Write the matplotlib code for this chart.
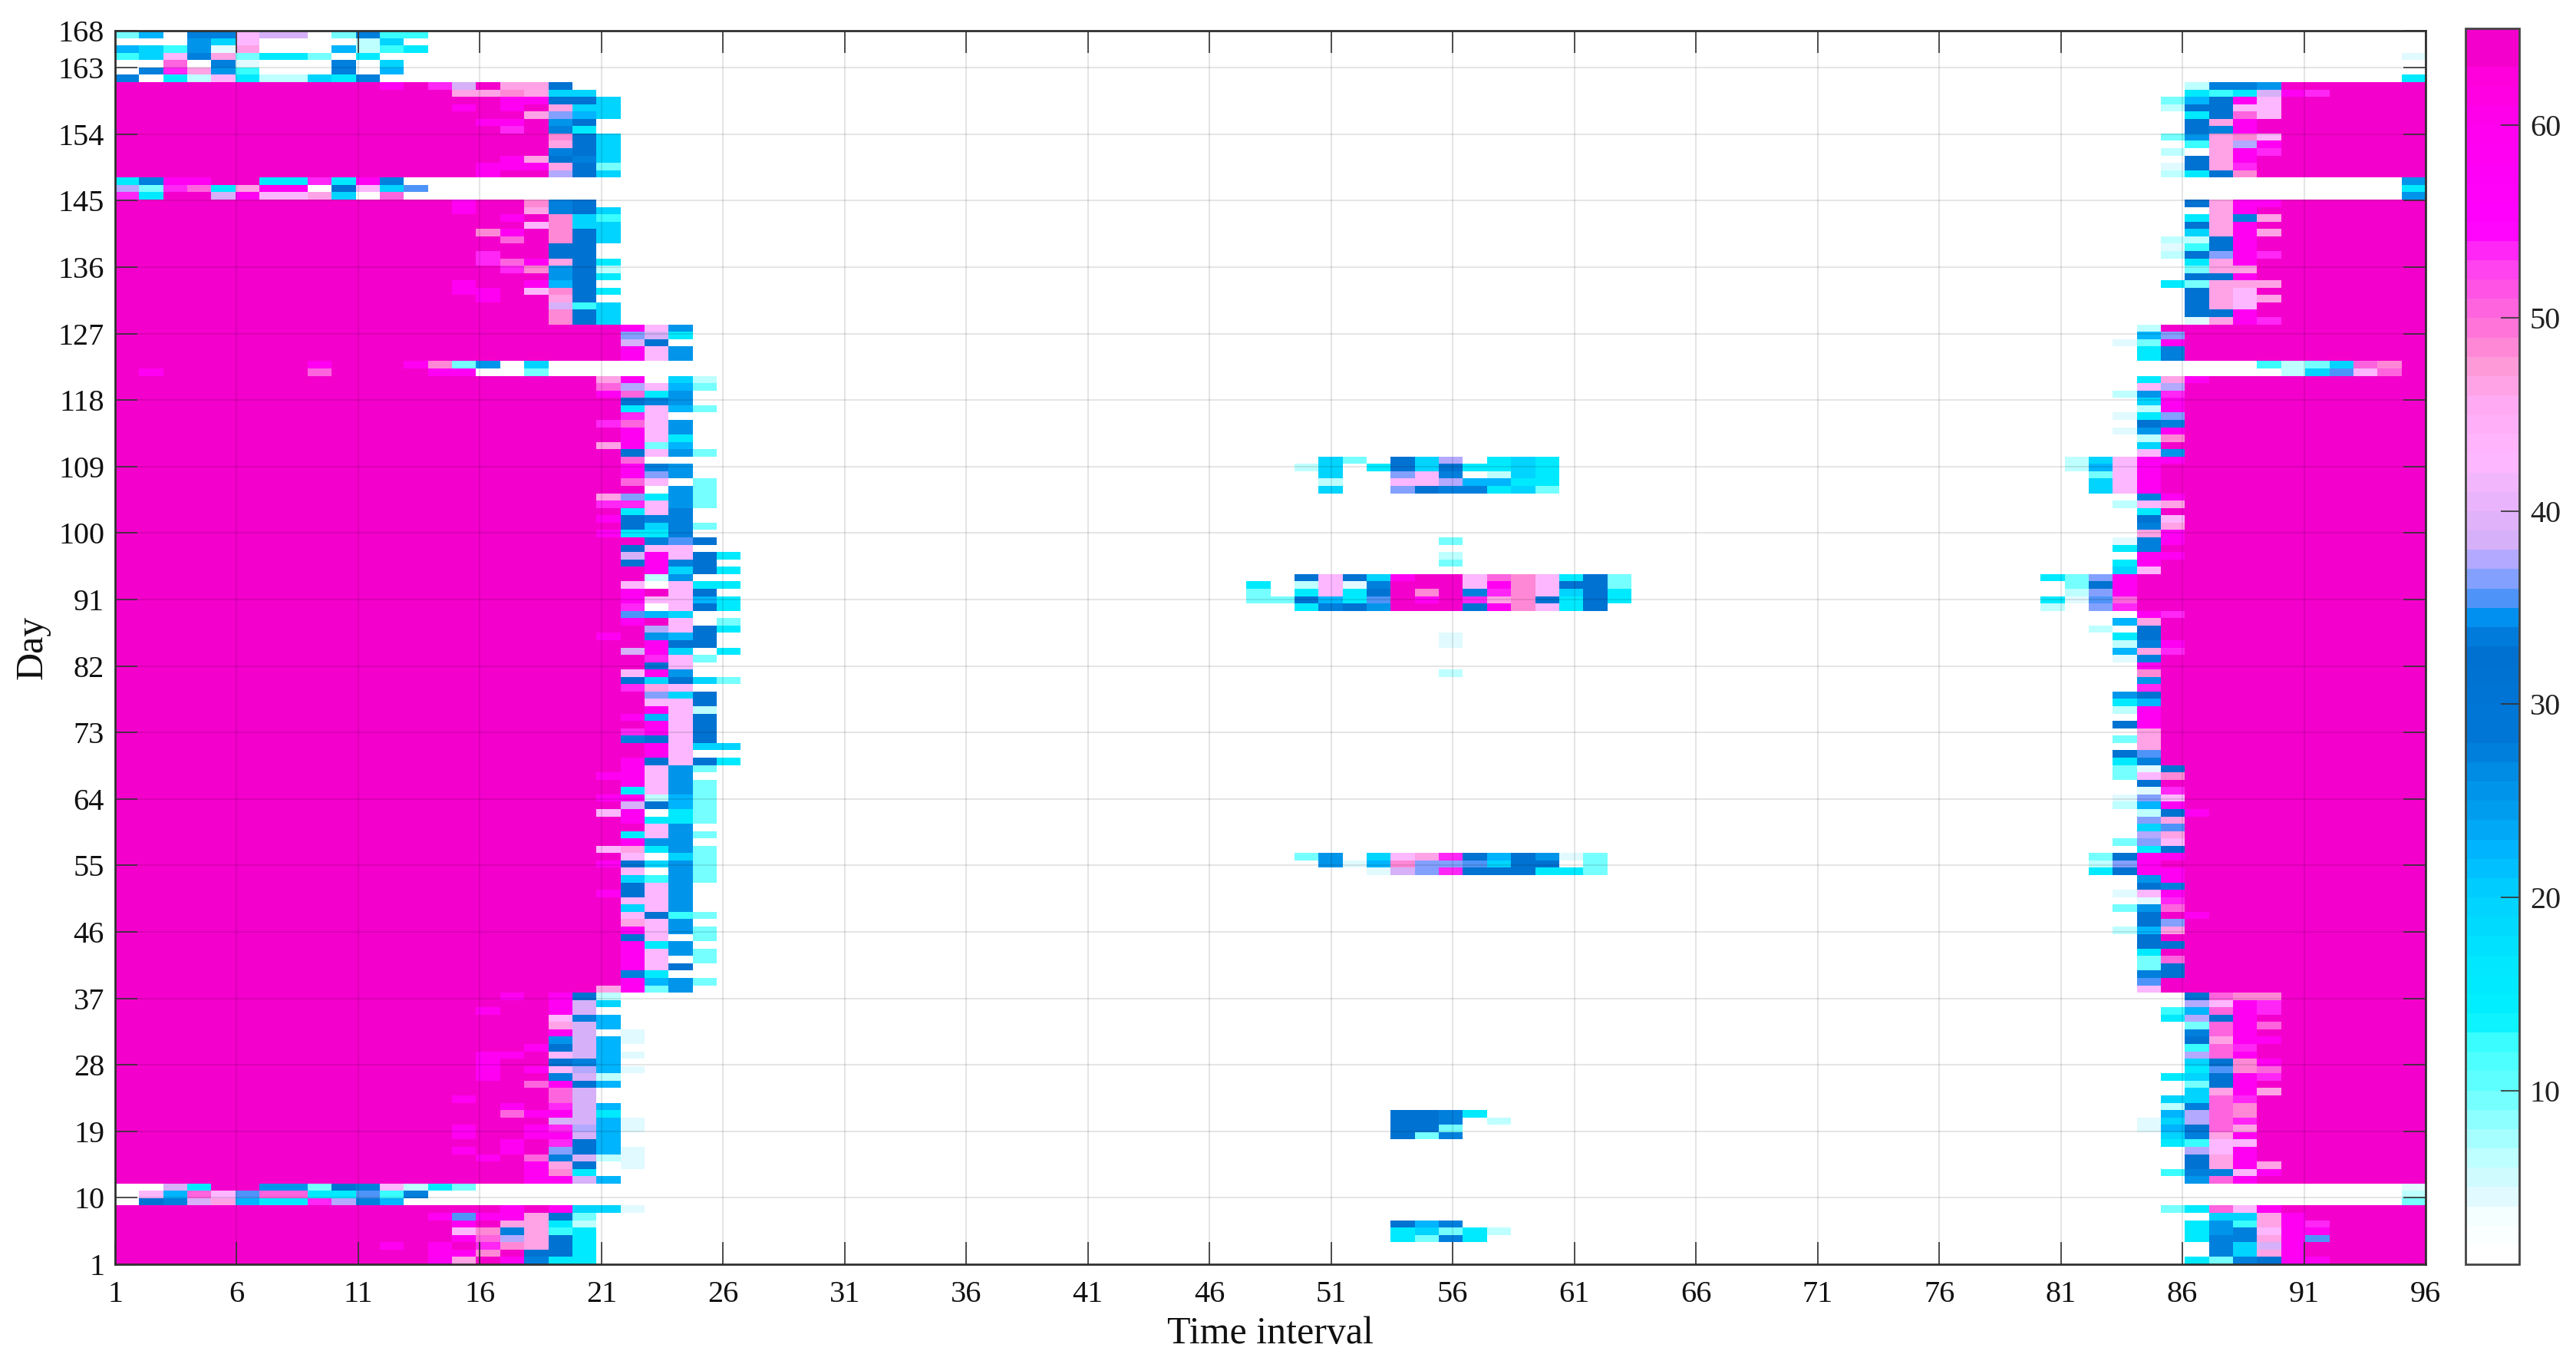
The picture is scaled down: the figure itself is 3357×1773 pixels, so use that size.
import numpy as np
import matplotlib
matplotlib.use('Agg')
import matplotlib.pyplot as plt
from matplotlib.colors import LinearSegmentedColormap

# level of each letter used in the row strings below
levels = {'.': 1, 'w': 4, 'x': 6, 't': 9, 'y': 12, 'a': 15, 's': 19, 'r': 22, 'c': 25,
          'e': 27, 'd': 31, 'f': 35, 'b': 36, 'g': 37, 'v': 38, 'l': 42, 'k': 46,
          'p': 48, 'o': 50, 'h': 53, 'm': 58, 'M': 64}

# colorbar stops
cbar_values = [1, 3, 4.5, 6, 8, 10, 12, 13.5, 16, 20, 22, 24, 26, 28, 33, 34.5, 35.5,
               36.5, 37.5, 38.5, 43, 46, 48, 49.5, 51, 53, 55, 60, 63, 64, 65]
cbar_colors = ['#FFFFFF', '#F5FFFF', '#D8F8FF', '#C0FFFF', '#90FFFF', '#60FFFF', '#40FFFF',
               '#00F0FF', '#00E8FF', '#00D0FF', '#00B8FF', '#00A0F0', '#0090E8', '#0078D8',
               '#0070D0', '#0090F0', '#4C94F8', '#80A0FF', '#B0A8FF', '#D5B0F8', '#FFB8FF',
               '#FFA8F0', '#FF98D5', '#FF78D8', '#FF60E0', '#FF40F0', '#FF00FF', '#FF00F0',
               '#FF00DC', '#F400CC', '#F400CC']

# left edge, interval index 13 onward, days 1-38
left_low = ['mkMmeaa', 'mmpMdda', 'mMhpkda', 'Mmogkda', 'Mlpekya', 'MmMkkax', 'mfmmkdt',
            'MMMmMmssw', '', '', 'at', 'MMMMmmvr', 'MMMMmpa', 'MMMMmkd.w', 'MMmMoevxw',
            'MmMmMbdrw', 'MMMmMhdr', 'MmMMmmvr', 'MmMMmhgrw', 'MMMMMvvrw', 'MMMommva',
            'MMMmMhvr', 'MmMMMov', 'MMMMMov', 'MMMMomdr', 'MMmMMevx', 'MMmMmlgrw',
            'MMmMMder', 'MMmmMlvrw', 'MMMMmdvr', 'MMMMMcvrw', 'MMMMMmv.w', 'MMMMMkvr',
            'MMMMMler', 'MMmMMmv', 'MMMMMmvs', 'MMMmMmdx', 'MMMMMMMkmtc']

# left edge, interval index 20 onward, days 39-121
left_mid = ['Mmrct', 'Mea', 'Mmld', 'Mml.t', 'Mmlct', 'Mmac', 'Mdl.t', 'Mmlct', 'Mklc',
            'Mldyt', 'Mslc', 'Mllc', 'mdlc', 'Mdlc', 'Msyct', 'Ml.ct', 'mdsct', 'Ml.st',
            'lkact', 'Mmcc', 'Malct', 'MMlc', 'Mmaat', 'lm.at', 'Mvdrt', 'mmxrt', 'Malct',
            'Mmlct', 'mmlc', 'Mmlct', 'Mmdlda', 'MMml', 'MMmlss', 'Medld', 'Mhmld', 'MMmld',
            'Mmrld', 'MMmlx', 'MMlld', 'MMbsd', 'Mhkl', 'Mdsdst', 'Mlmc', 'MMdl', 'MMhlt',
            'Mvms.a', 'MMmdd', 'mMcrd', 'MMglda', 'MmMl.t', 'Mfrs', 'Mh.lda', 'Mmllra',
            'MmMld', 'Ml.laa', 'MMxc', 'MMmsda', 'Mdmed', 'Mvmlda', 'Mdll', 'MMefd', 'maae',
            'Mdset', 'mdee', 'Male', 'hhlct', 'kbact', 'MM.ct', 'Mol.t', 'Mmbc', 'Mmec', 'Mo',
            'Mdlct', 'kmtr', 'Mmla', 'Mmlc', 'holc', 'Mhl', 'Malrt', 'Mdec', 'moac', 'oglrt',
            'km.sx']

# left edge, interval index 13 onward, days 122-168
left_high = ['mm..t', 'ptc.s', 'MMMMMMMMmlc', 'MMMMMMMMmlc', 'MMMMMMMMvd', 'MMMMMMMMbva',
             'MMMMMMMMmlc', 'MMMMMpds', 'MMMMMpds', 'MMMMMvys', 'MMmMMkd', 'MmmMlpda',
             'MmMMmrd', 'MMMMMcda', 'MMMhpcdx', 'MMhomkda', 'MMhMMdd', 'MMMMMdd', 'MMMoMpds',
             'MMpmMpds', 'MMMMlpss', 'MMMmMpsy', 'MmMMkeds', 'MmMMped', '', '', '',
             'MMmMMgds', 'MMmmmkdt', 'MMMmkdes', 'MMMMMeds', 'MMMMMkds', 'MMMMMpds',
             'MMMhMea', 'MMmmMcd', 'MMMMkbrs', 'MmMmMkss', 'MMMmmdds', 'Mkkpkss', 'hvMkkd',
             '', '', '', '', '', '', '']

# first 13 intervals where they are not saturated, by row index
left_heads = {2: 'MMMMMMMMMMMmM', 8: '.devkraahger.', 9: '.lrolfooaafye', 10: '..vaMMcctdelx',
              121: 'MmMMMMMMoMMMM', 122: 'MMMMMMMMmMMMm', 145: 'haMMvmllks.o.',
              146: 'gthoakmm.dlsf', 147: 'aemmMMaahame.', 160: 'MMMMMMMMMMMmM',
              161: 'e.axlaxxsae..', 162: '.ehkcy...e.r.', 163: '..o.ew...e.s.',
              164: 'yslektaat.a..', 165: 'rsycwk...rxya', 166: '...csl....xs.',
              167: 'tr.eelvv.teyy'}

# right edge, interval index 80 onward, days 1-168; the rest of a row is saturated
right_band = ['......atedmm', '.......eskm', '.......esvm', '......aeekmf', '......acelmm',
              '......acykmh', '.......sskm', '.....taolm', '...............t',
              '...............x', '...............w', '......com', '.....yeelm', '......dkmk',
              '......dkm', '......glm', '.....ayll', '.....sekm', '....wrdok', '....wsgoh',
              '.....rgop', '.....xeop', '.....ssoh', '......skmk', '......tdm', '.....asdmh',
              '......afpo', '......sdpm', '......gom', '......yoh', '......dkmm', '......eom',
              '......tomo', '.....agdm', '.....yromh', '......glmh', '......dopp', '....l',
              '....f', '....ed', '....td', '....to', '....a', '....dd', '....d', '...xrk',
              '....db', '....dMm', '...tco', '....wh', '...wlm', '....de', '....cm', '..admm',
              '..xbm', '..tdmm', '....ad', '...tbl', '....gk', '....sf', '....bk', '....xdm',
              '...xrm', '...wbl', '....wh', '....d', '...tlp', '...twd', '...ae', '...df',
              '....k', '...tk', '....k', '...dm', '....m', '...xm', '...ar', '...cd', '....h',
              '....c', '....p', '....m', '...we', '...rkh', '...xem', '...ad', '..x.d',
              '...rk', '....mh', 'x.bh', 'awfo', '.xbm', '.tdm', 'atbm', '...sl', '...am',
              '....mm', '...ae', '...wem', '....km', '....ek', '....dl', '....a', '...xlk',
              '....em', '..slm', '..slm', '..tlm', '.xrlm', '.xslmm', '....lc', '....s',
              '....xp', '...wcm', '....de', '...wab', '....xm', '....sm', '...xch', '....lg',
              '....akm', '..........xsflo', '.........yxtsop', '....ae', '....ae', '...wtm',
              '....rb', '....x', '......wkmh', '......ddm', '......dkl', '......dklk',
              '......dkl', '.....atkkk', '......ddm', '......tkk', '......akm', '.....xdbmh',
              '.....wydm', '.....xxdm', '......skmk', '......dkm', '......akek', '.......km',
              '......dkmm', '...............c', '...............a', '...............c',
              '.....xadp', '.....wdkh', '......dkm', '.....x.kmh', '......ykgm', '.....tckpl',
              '......dem', '......dkm', '......adol', '.....xddll', '.....trdml',
              '......ayavmh', '......xeec', '...............a', '................',
              '................', '...............w', '................', '................',
              '................']

# middle clusters: row index, first interval index, levels
mid_rows = [(109, 50, 'st.dsg.asa'), (108, 49, 'xs.adsdaasa'), (107, 50, 's..ble.xsa'),
            (106, 50, 'x..llgrraa'), (105, 50, 's..bdeeast'), (98, 55, 't'), (96, 55, 'x'),
            (95, 55, 't'), (93, 49, 'dldsmMMlopladt'), (92, 47, 'a.xlweMMMlmplddt'),
            (91, 47, 't.aladMpMehplsda'), (90, 47, 'ttdrafMmMhkpdada'),
            (89, 49, 'aedcMMMdmplad'), (85, 55, 'w'), (84, 55, 'w'), (80, 55, 'x'),
            (55, 49, 'tc.slkhdrdcwt'), (54, 50, 'cwrpbbfsdd.t'), (53, 52, 'wvbhdddaat'),
            (20, 53, 'ddea'), (19, 53, 'dde.x'), (18, 53, 'ddt'), (17, 53, 'dte'),
            (5, 53, 'dre'), (4, 53, 'astax'), (3, 53, 'atea')]

x_ticks = list(range(1, 97, 5))
y_ticks = list(range(1, 164, 9)) + [168]
cbar_ticks = [10, 20, 30, 40, 50, 60]


# put a string of levels into one row
def put(grid, row, start, text):
    for i, ch in enumerate(text):
        grid[row, start + i] = levels[ch]


Z = np.ones((168, 96))
for r, text in enumerate(left_low):
    Z[r, :13] = levels['M']
    put(Z, r, 13, text)
for r, text in enumerate(left_mid):
    Z[r + 38, :20] = levels['M']
    put(Z, r + 38, 20, text)
for r, text in enumerate(left_high):
    Z[r + 121, :13] = levels['M']
    put(Z, r + 121, 13, text)
for r, text in left_heads.items():
    put(Z, r, 0, text)
for r, text in enumerate(right_band):
    put(Z, r, 80, text.ljust(16, 'M'))
for r, start, text in mid_rows:
    put(Z, r, start, text)

stops = [(v - 1) / 64 for v in cbar_values]
cmap = LinearSegmentedColormap.from_list('traffic', list(zip(stops, cbar_colors)), N=64)

plt.rcParams['font.family'] = ['Liberation Serif', 'DejaVu Serif']

W, H = 3357, 1773
fig = plt.figure(figsize=(W / 100, H / 100), dpi=100)
ax = fig.add_axes([150 / W, (H - 1647) / H, 3011 / W, 1607 / H])
cax = fig.add_axes([3213 / W, (H - 1647) / H, 70 / W, 1610 / H])

xedges = np.linspace(1, 96, 97)
yedges = np.linspace(1, 168, 169)
mesh = ax.pcolormesh(xedges, yedges, Z, cmap=cmap, vmin=1, vmax=65, shading='flat',
                     antialiased=False, linewidth=0, rasterized=True)

ax.set_xticks(x_ticks)
ax.set_yticks(y_ticks)
ax.set_xlim(1, 96)
ax.set_ylim(1, 168)
ax.set_axisbelow(False)
ax.grid(True, color='black', alpha=0.1, linewidth=1.5)
ax.tick_params(axis='both', direction='in', length=21, width=1.2, color='#333333',
               labelsize=29, top=True, right=True, labelcolor='#111111')
ax.tick_params(axis='x', pad=15)
ax.tick_params(axis='y', pad=10)
for side in ax.spines.values():
    side.set_linewidth(2)
    side.set_color('#333333')

ax.set_xlabel('Time interval', fontsize=36, labelpad=7, color='#111111')
ax.set_ylabel('Day', fontsize=36, labelpad=7, color='#111111')

cb = fig.colorbar(mesh, cax=cax, ticks=cbar_ticks)
cb.ax.tick_params(direction='in', length=17, width=1.2, color='#333333', labelsize=29,
                  pad=10, labelcolor='#222222')
cb.outline.set_linewidth(2)
cb.outline.set_edgecolor('#444444')

fig.savefig('out.png', dpi=100)
